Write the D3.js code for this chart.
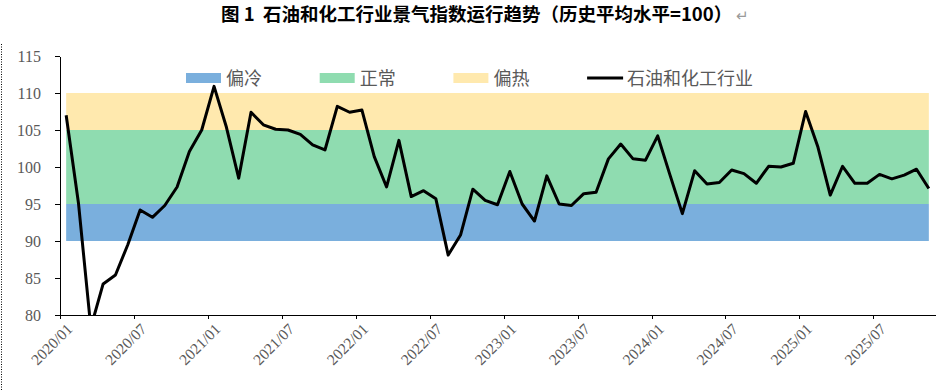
<!DOCTYPE html>
<html lang="zh">
<head>
<meta charset="UTF-8">
<title>石油和化工行业景气指数</title>
<script src="https://d3js.org/d3.v7.min.js"></script>
<style>
    body { margin: 0; background: #fff; }
    .axis path, .axis line { stroke: #000; stroke-width: 1px; shape-rendering: crispEdges; }
    .axis text { fill: #595959; font-family: "Liberation Serif", "DejaVu Serif", serif; }
    .legend text { fill: #595959; font-family: "Noto Sans CJK SC", sans-serif; font-size: 18px; }
    .title { font-family: "Noto Sans CJK SC", sans-serif; font-weight: bold; font-size: 18.5px; fill: #000; }
</style>
</head>
<body>
<script>
// size of the page
const W = 945, H = 390
const MARGIN = {TOP: 56, RIGHT: 10, BOTTOM: 75, LEFT: 60}

// monthly categories 2020/01 .. 2025/11
const fmt = d3.timeFormat("%Y/%m")
const months = d3.timeMonths(new Date(2020, 0, 1), new Date(2025, 11, 1)).map(fmt)

// index values
const values = [
    107.0, 95.1, 78.3, 84.2, 85.4, 89.5, 94.2, 93.2, 94.8, 97.3, 102.1, 105.0,
    110.9, 105.4, 98.5, 107.4, 105.7, 105.1, 105.0, 104.4, 103.0, 102.3, 108.2, 107.4,
    107.7, 101.4, 97.3, 103.6, 96.0, 96.8, 95.7, 88.1, 90.8, 97.0, 95.5, 94.9,
    99.4, 95.0, 92.7, 98.8, 95.0, 94.8, 96.4, 96.6, 101.1, 103.1, 101.1, 100.9,
    104.2, 98.9, 93.7, 99.5, 97.7, 97.9, 99.6, 99.1, 97.8, 100.1, 100.0, 100.5,
    107.5, 102.7, 96.2, 100.1, 97.8, 97.8, 99.0, 98.4, 98.9, 99.7, 97.1
]

// background bands (lower, upper)
const bandNames = ["偏冷", "正常", "偏热"]
const bandLow = [90, 95, 105]
const bandHigh = [95, 105, 110]
const bandColors = ["#7AAFDD", "#8FDCB0", "#FFE9AE"]

const seriesName = "石油和化工行业"
const yTicks = [80, 85, 90, 95, 100, 105, 110, 115]
const xTickIdx = d3.range(0, months.length, 6)   // 2020/01, 2020/07, ...

const svg = d3.select("body").append("svg")
    .attr("width", W)
    .attr("height", H)

// x over category index, boundaries at integers, points at i + .5
const x = d3.scaleLinear().domain([0, months.length]).range([MARGIN.LEFT, 935])
const y = d3.scaleLinear().domain([80, 115]).range([315, MARGIN.TOP])

// dotted page border at the left
svg.append("line")
    .attr("x1", 1.5).attr("x2", 1.5)
    .attr("y1", 44).attr("y2", H)
    .attr("stroke", "#000")
    .attr("stroke-dasharray", "1,1.5")

// title
const title = svg.append("text").attr("class", "title").attr("y", 21)
title.append("tspan").attr("x", 221).text("图 1")
title.append("tspan").attr("x", 263).text("石油和化工行业景气指数运行趋势（历史平均水平=100）")
title.append("tspan")
    .attr("dx", 4)
    .attr("fill", "#9a9a9a")
    .attr("font-weight", "normal")
    .attr("font-size", "15px")
    .text("↵")

// bands
svg.selectAll(".band")
    .data(bandNames)
    .enter().append("rect")
    .attr("class", "band")
    .attr("x", x(0.5))
    .attr("width", x(months.length - 0.5) - x(0.5))
    .attr("y", (d, i) => y(bandHigh[i]))
    .attr("height", (d, i) => y(bandLow[i]) - y(bandHigh[i]))
    .attr("fill", (d, i) => bandColors[i])

// clip line to plot area
svg.append("clipPath").attr("id", "plot")
  .append("rect")
    .attr("x", x(0)).attr("y", y(115))
    .attr("width", x(months.length) - x(0))
    .attr("height", y(80) - y(115))

const line = d3.line()
    .x((d, i) => x(i + 0.5))
    .y(d => y(d))

svg.append("path")
    .datum(values)
    .attr("clip-path", "url(#plot)")
    .attr("fill", "none")
    .attr("stroke", "#000")
    .attr("stroke-width", 3)
    .attr("stroke-linejoin", "round")
    .attr("d", line)

// axes
svg.append("g")
    .attr("class", "axis")
    .attr("transform", `translate(${MARGIN.LEFT},0)`)
    .call(d3.axisLeft(y).tickValues(yTicks).tickSize(5).tickSizeOuter(0).tickPadding(14))
    .selectAll("text")
    .attr("font-size", "16px")

const xAxis = svg.append("g")
    .attr("class", "axis")
    .attr("transform", `translate(0,${y(80)})`)
    .call(d3.axisBottom(x).tickValues(xTickIdx).tickSize(4).tickSizeOuter(0)
        .tickFormat(i => months[i]))

xAxis.selectAll("text")
    .attr("font-size", "15.5px")
    .attr("text-anchor", "end")
    .attr("dy", null)
    .attr("y", 0)
    .attr("x", 0)
    .attr("transform", "translate(13,15) rotate(-45)")

// legend
const legend = svg.append("g").attr("class", "legend")
const legendItems = bandNames.concat([seriesName])
legendItems.forEach((name, i) => {
    const row = legend.append("g")
        .attr("transform", `translate(${186 + i * 133.7}, 78)`)
    if (i < 3) {
        row.append("rect")
            .attr("y", -5)
            .attr("width", 35)
            .attr("height", 10)
            .attr("fill", bandColors[i])
    } else {
        row.append("line")
            .attr("x1", 0).attr("x2", 36)
            .attr("stroke", "#000")
            .attr("stroke-width", 3)
    }
    row.append("text")
        .attr("x", 40)
        .attr("y", 6.5)
        .text(name)
})
</script>
</body>
</html>
